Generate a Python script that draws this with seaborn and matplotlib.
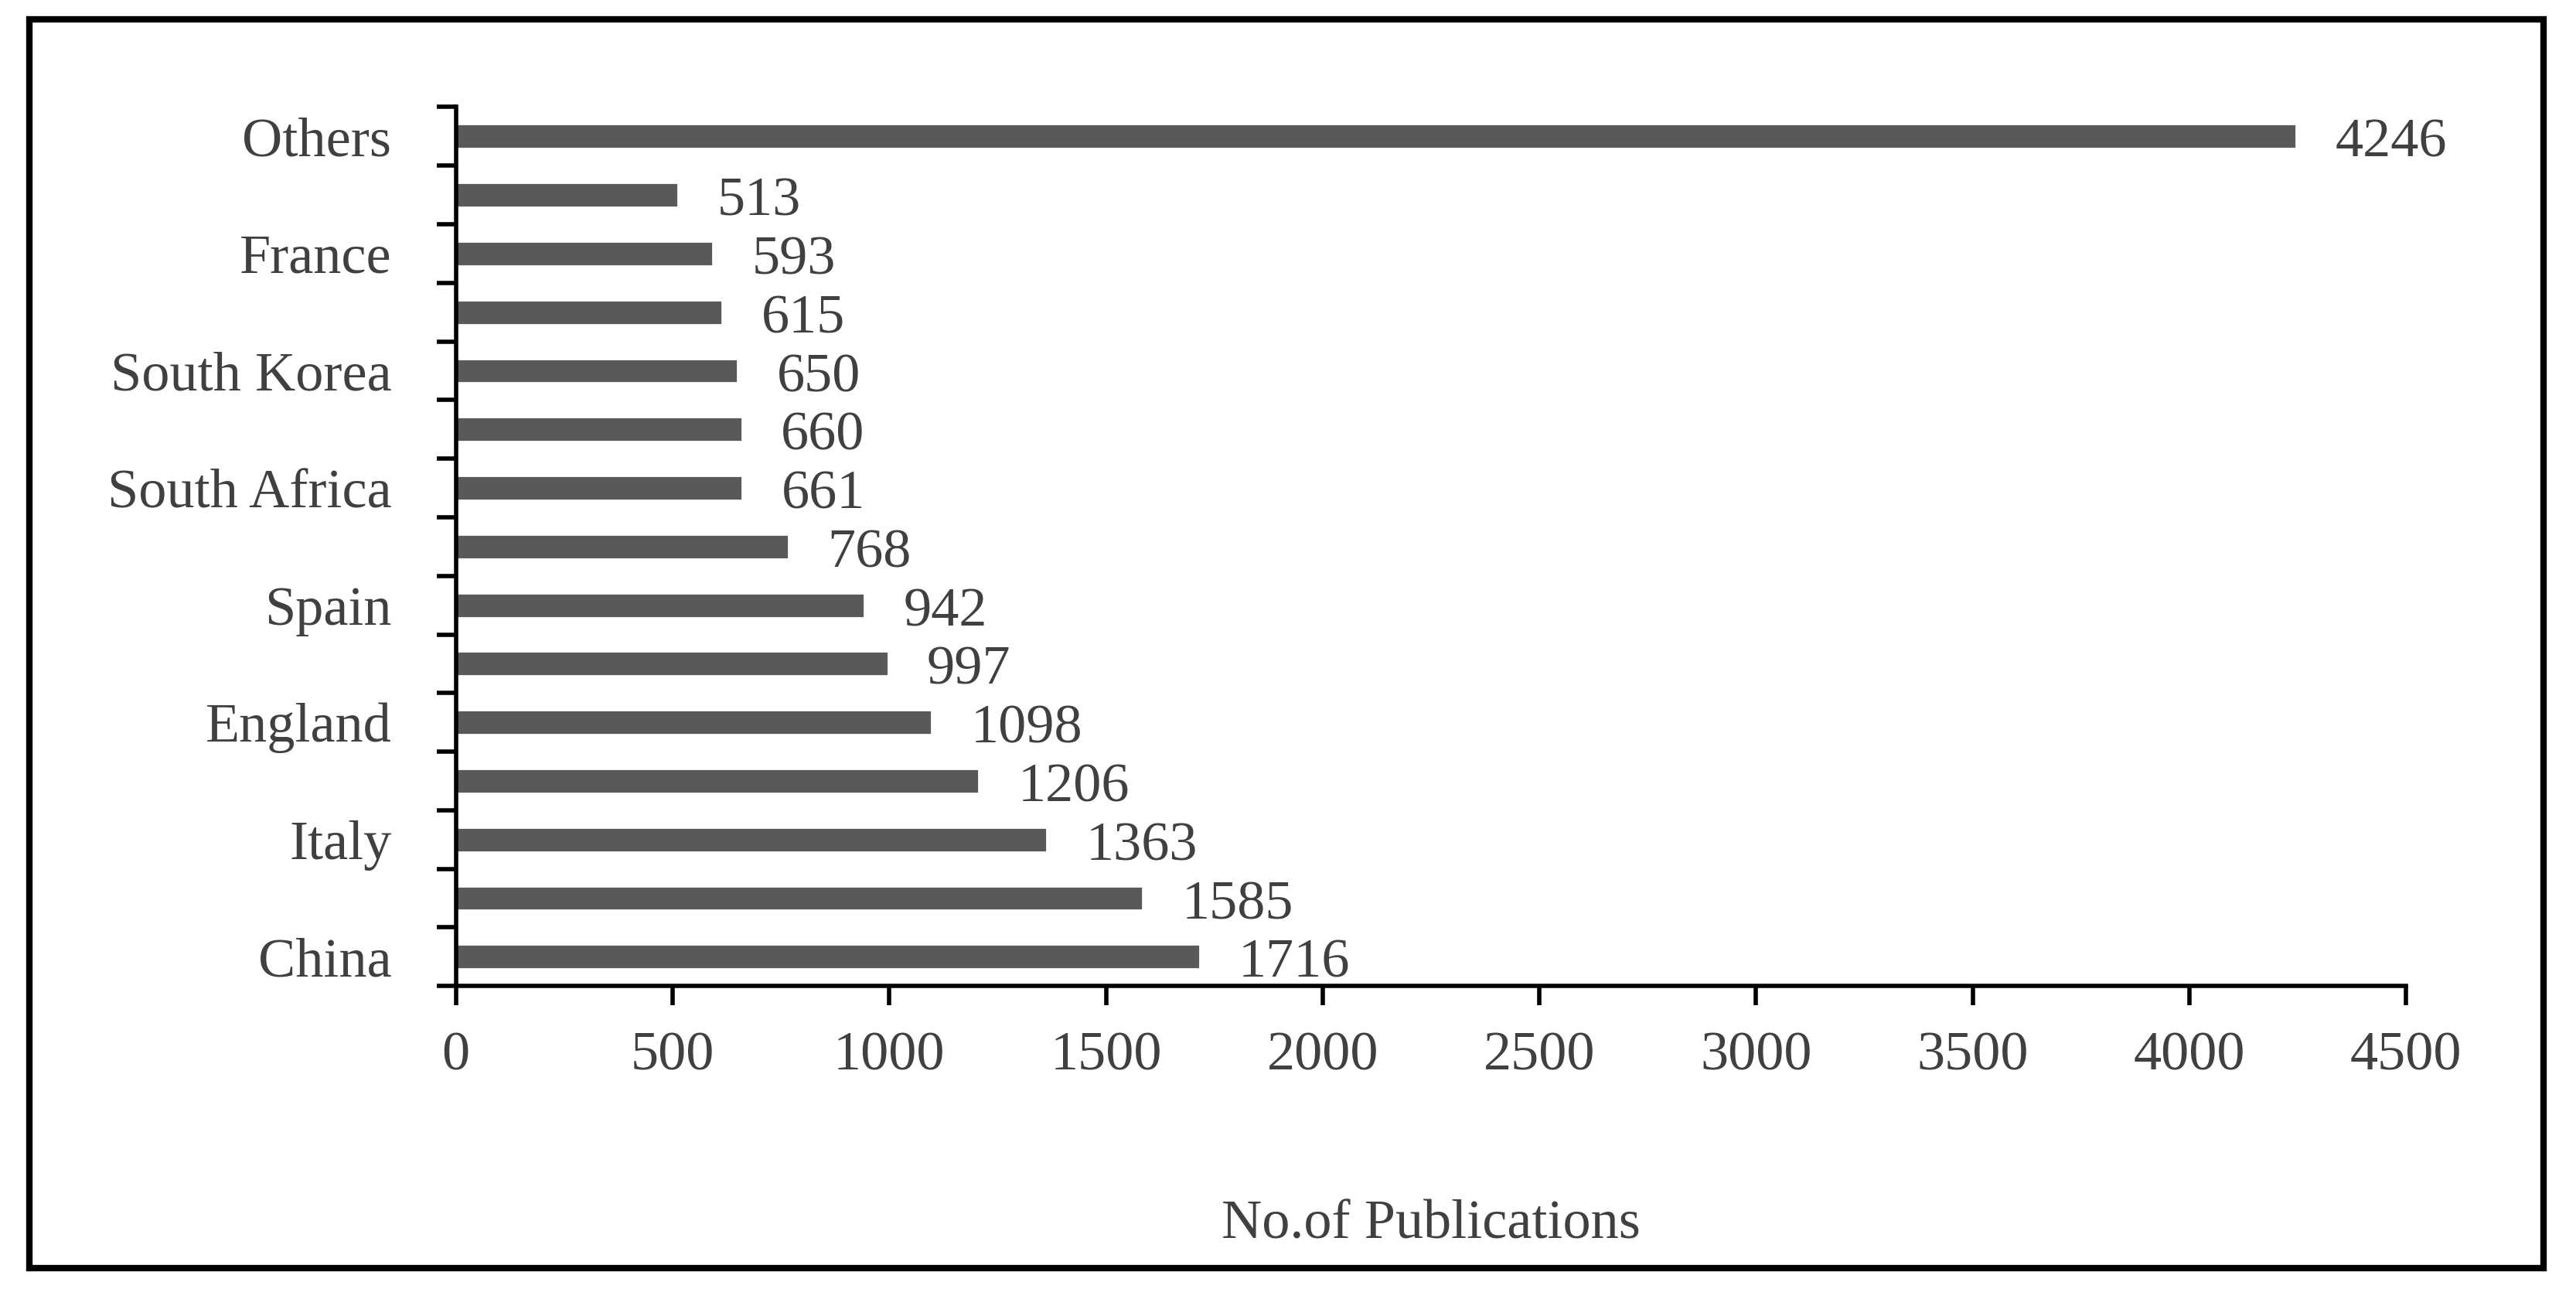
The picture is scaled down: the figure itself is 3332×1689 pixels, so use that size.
import matplotlib
matplotlib.use("Agg")
import matplotlib.pyplot as plt
import seaborn as sns
import pandas as pd
from matplotlib.patches import Rectangle
from matplotlib.ticker import FixedLocator

countries = ["China", "USA", "Italy", "Germany", "England", "India", "Spain", "Brazil",
             "South Africa", "Australia", "South Korea", "Canada", "France", "Japan", "Others"]
pubs = [1716, 1585, 1363, 1206, 1098, 997, 942, 768, 661, 660, 650, 615, 593, 513, 4246]
shown = ["China", "Italy", "England", "Spain", "South Africa", "South Korea", "France", "Others"]

sns.set_style("white")
plt.rcParams['font.family'] = ['Liberation Serif', 'DejaVu Serif']
txt = "#404040"

df = pd.DataFrame({"country": countries[::-1], "pubs": pubs[::-1]})
fig = plt.figure(figsize=(16.66, 8.445), dpi=200)
ax = fig.add_axes([0.177, 0.245, 0.757, 0.673])
sns.barplot(data=df, y="country", x="pubs", orient="h", color="#595959",
            saturation=1, width=0.42, ax=ax)
n = len(countries)
ax.set_ylim(n - 0.5, -0.5)
ax.set_xlim(0, 4500)
ax.set_xticks(range(0, 4501, 500))
ax.set_yticks(range(n))
ax.set_yticklabels([c if c in shown else "" for c in df["country"]])
ax.yaxis.set_minor_locator(FixedLocator([i - 0.5 for i in range(n + 1)]))
ax.tick_params(axis="y", which="major", length=0, pad=30, labelsize=26, labelcolor=txt)
ax.tick_params(axis="y", which="minor", length=9, width=2, color="black", left=True)
ax.tick_params(axis="x", which="major", length=9, width=2, color="black", bottom=True,
               labelsize=26, labelcolor=txt, pad=12)
for s in ["top", "right"]:
    ax.spines[s].set_visible(False)
for s in ["left", "bottom"]:
    ax.spines[s].set_color("black")
    ax.spines[s].set_linewidth(2)
ax.set_ylabel("")
ax.set_xlabel("No.of Publications", fontsize=26, color=txt, labelpad=55)
for i, v in enumerate(df["pubs"]):
    ax.text(v + 90, i + 0.12, str(v), va="center", ha="left", fontsize=26, color=txt)
fig.patches.append(Rectangle((0.0115, 0.029), 0.976, 0.956, transform=fig.transFigure,
                             fill=False, edgecolor="black", linewidth=3))
fig.savefig("out.png", dpi=200)
